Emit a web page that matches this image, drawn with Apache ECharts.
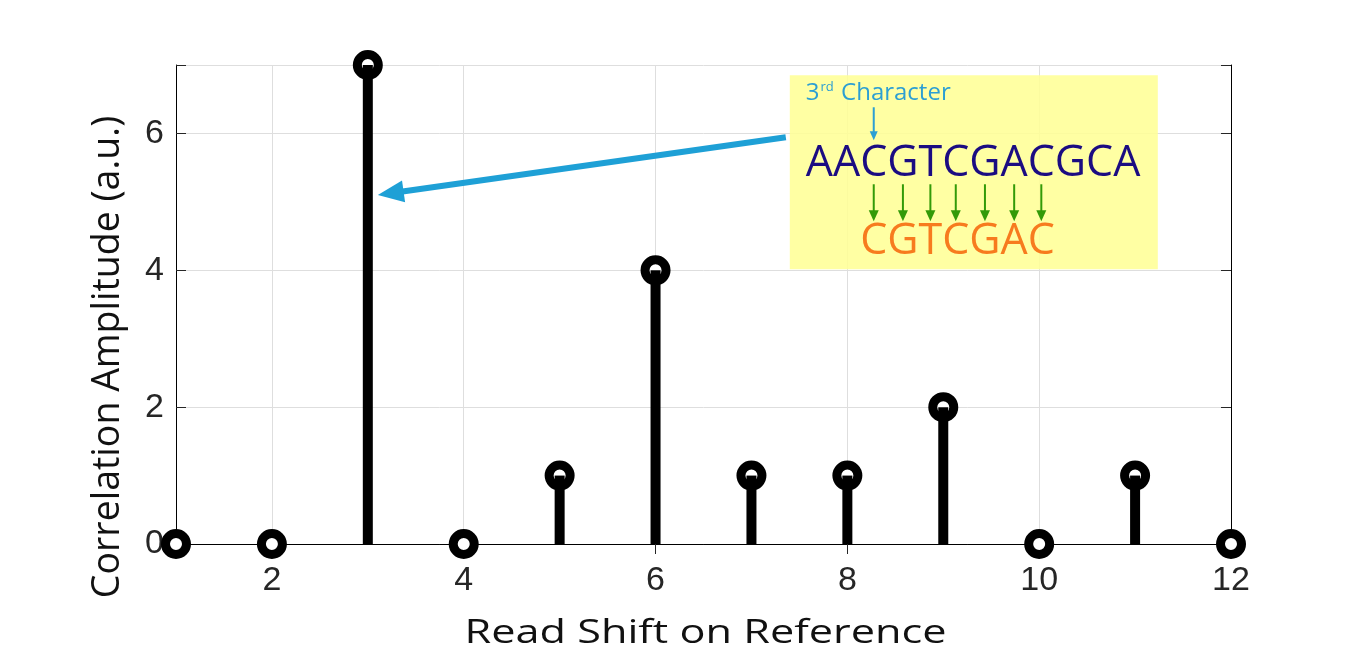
<!DOCTYPE html>
<html>
<head>
<meta charset="utf-8">
<script src="https://cdn.jsdelivr.net/npm/echarts@6/dist/echarts.min.js"></script>
<style>html,body{margin:0;padding:0;background:#fff;}#chart{width:1360px;height:661px;}</style>
</head>
<body>
<div id="chart"></div>
<script>
// ---- data ----
const readShifts = [1, 2, 3, 4, 5, 6, 7, 8, 9, 10, 11, 12];
const amplitudes = [0, 0, 7, 0, 1, 4, 1, 1, 2, 0, 1, 0];
const xTickLabels = [2, 4, 6, 8, 10, 12];
const yTickLabels = [0, 2, 4, 6];
const xAxisTitle = 'Read Shift on Reference';
const yAxisTitle = 'Correlation Amplitude (a.u.)';
const referenceSequence = 'AACGTCGACGCA';
const readSequence = 'CGTCGAC';
const matchStartChar = 3; // 3rd character
const annotationTarget = [3, 5.1];       // data point the big arrow points to
const annotationBoxCorner = [7.4, 6.85]; // top-left of yellow box in data units

const pts = readShifts.map((x, i) => [x, amplitudes[i]]);
const labelFont = '"Liberation Sans", Arial, sans-serif';
const nameFont = '"Open Sans", "Noto Sans", sans-serif';
const axisColor = '#262626';

const chart = echarts.init(document.getElementById('chart'), null, {renderer: 'canvas'});

const tickCommon = {show: true, inside: true, length: 10, lineStyle: {color: axisColor, width: 1}};
const option = {
  animation: false,
  backgroundColor: '#ffffff',
  grid: {left: 176, right: 129, top: 65, bottom: 117, show: false},
  xAxis: [{
    type: 'value', min: 1, max: 12,
    position: 'bottom',
    axisLine: {show: true, onZero: true, lineStyle: {color: '#000', width: 1}},
    axisTick: Object.assign({customValues: xTickLabels}, tickCommon),
    splitLine: {show: true, lineStyle: {color: '#dedede', width: 1}},
    axisLabel: {
      customValues: xTickLabels,
      fontSize: 34, color: axisColor, fontFamily: labelFont, margin: 20
    }
  }, {
    type: 'value', min: 1, max: 12, position: 'top',
    axisLine: {show: true, lineStyle: {color: '#000', width: 1}},
    axisTick: Object.assign({customValues: xTickLabels}, tickCommon),
    splitLine: {show: false}, axisLabel: {show: false}
  }],
  yAxis: [{
    type: 'value', min: 0, max: 7, interval: 2,
    position: 'left',
    axisLine: {show: true, lineStyle: {color: '#000', width: 1}},
    axisTick: tickCommon,
    splitLine: {show: true, lineStyle: {color: '#dedede', width: 1}},
    axisLabel: {
      fontSize: 34, color: axisColor, fontFamily: labelFont, margin: 12,
      formatter: v => yTickLabels.includes(v) ? String(v) : ''
    }
  }, {
    type: 'value', min: 0, max: 7, interval: 2, position: 'right',
    axisLine: {show: true, lineStyle: {color: '#000', width: 1}},
    axisTick: tickCommon, splitLine: {show: false}, axisLabel: {show: false}
  }],
  series: [{
    type: 'scatter', data: pts, symbol: 'circle', symbolSize: 21, clip: false, z: 3,
    itemStyle: {color: '#ffffff', borderColor: '#000000', borderWidth: 9, opacity: 1}
  }, {
    type: 'bar', data: pts, barWidth: 10, z: 4, clip: false,
    itemStyle: {color: '#000000'}
  }]
};
chart.setOption(option);

// ---- annotation ----
function arrow(x1, y1, x2, y2, width, headLen, headW, color) {
  const dx = x2 - x1, dy = y2 - y1, len = Math.hypot(dx, dy);
  const ux = dx / len, uy = dy / len, px = -uy, py = ux;
  const bx = x2 - ux * headLen, by = y2 - uy * headLen;
  return [{
    type: 'line', z: 20, silent: true,
    shape: {x1: x1, y1: y1, x2: bx + ux * 1, y2: by + uy * 1},
    style: {stroke: color, lineWidth: width}
  }, {
    type: 'polygon', z: 21, silent: true,
    shape: {points: [[x2, y2], [bx + px * headW / 2, by + py * headW / 2], [bx - px * headW / 2, by - py * headW / 2]]},
    style: {fill: color}
  }];
}

const ctx = document.createElement('canvas').getContext('2d');
const seqFontSize = 43;
const seqFont = seqFontSize + 'px "Open Sans"';
ctx.font = seqFont;

const corner = chart.convertToPixel({xAxisIndex: 0, yAxisIndex: 0}, annotationBoxCorner);
const bx = corner[0], by = corner[1];
const boxW = 368, boxH = 194;
const seqX = bx + 16, seqY = by + 88;
const charStart = [];
let acc = 0;
for (let i = 0; i < referenceSequence.length; i++) {
  charStart.push(acc);
  acc += ctx.measureText(referenceSequence[i]).width;
}
const charCenter = i => seqX + charStart[i] + ctx.measureText(referenceSequence[i]).width / 2;
const ms = matchStartChar - 1;

const graphics = [];
graphics.push({
  type: 'rect', z: 10, silent: true,
  shape: {x: bx, y: by, width: boxW, height: boxH},
  style: {fill: 'rgba(255,255,150,0.88)'}
});
graphics.push({
  type: 'text', z: 22, silent: true, x: bx + 16, y: by + 18,
  style: {
    text: '{n|3}{s|rd}{n| Character}',
    verticalAlign: 'middle', align: 'left',
    rich: {
      n: {fontSize: 24, fontFamily: '"Open Sans"', fill: '#2c9fd3', color: '#2c9fd3'},
      s: {fontSize: 13, fontFamily: '"Open Sans"', fill: '#2c9fd3', color: '#2c9fd3', verticalAlign: 'top', padding: [0, 1, 12, 1]}
    }
  }
});
graphics.push(...arrow(charCenter(ms), by + 32, charCenter(ms), by + 65, 2, 9, 8, '#2c9fd3'));
graphics.push({
  type: 'text', z: 22, silent: true, x: seqX, y: seqY,
  style: {text: referenceSequence, font: seqFont, fill: '#1b0c82', verticalAlign: 'middle', align: 'left'}
});
for (let i = 0; i < readSequence.length; i++) {
  const cx = charCenter(ms + i);
  graphics.push(...arrow(cx, by + 109, cx, by + 146, 2, 11, 10, '#339a08'));
}
graphics.push({
  type: 'text', z: 22, silent: true, x: seqX + charStart[ms], y: by + 166,
  style: {text: readSequence, font: seqFont, fill: '#f77b1e', verticalAlign: 'middle', align: 'left'}
});
const tip = chart.convertToPixel({xAxisIndex: 0, yAxisIndex: 0}, annotationTarget);
graphics.push(...arrow(bx - 4, by + 62, tip[0] + 10, tip[1], 6, 26, 22, '#1ea0d6'));

// axis titles (placed like the reference)
const xMid = chart.convertToPixel({xAxisIndex: 0}, (readShifts[0] + readShifts[readShifts.length - 1]) / 2);
graphics.push({
  type: 'text', z: 22, silent: true, x: xMid + 2, y: 634, scaleX: 1.31, scaleY: 1,
  style: {text: xAxisTitle, fontSize: 33, fontFamily: nameFont, fill: '#111', align: 'center', verticalAlign: 'middle'}
});
graphics.push({
  type: 'text', z: 22, silent: true, x: 108, y: 357, rotation: Math.PI / 2,
  style: {text: yAxisTitle, fontSize: 37.5, fontFamily: nameFont, fill: '#111', align: 'center', verticalAlign: 'middle'}
});

chart.setOption({graphic: graphics});
</script>
</body>
</html>
